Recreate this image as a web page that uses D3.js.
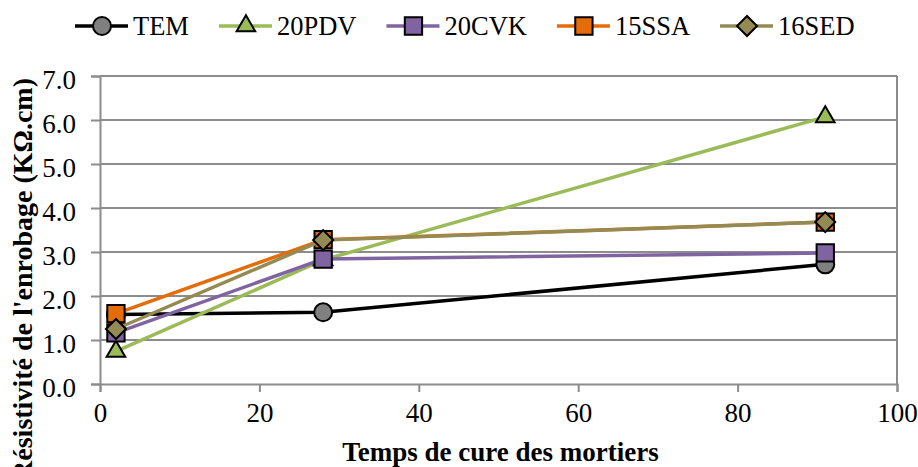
<!DOCTYPE html>
<html>
<head>
<meta charset="utf-8">
<script src="https://cdn.jsdelivr.net/npm/d3@7"></script>
<style>
  body { margin: 0; background: #fff; }
  svg text { font-family: "Liberation Serif", "Times New Roman", Times, serif; }
</style>
</head>
<body>
<svg id="chart"></svg>
<script>
// Data
const days = [2, 28, 91]
const seriesNames = ['TEM', '20PDV', '20CVK', '15SSA', '16SED']
const temValues = [1.58, 1.63, 2.72]
const pdvValues = [0.74, 2.82, 6.07]
const cvkValues = [1.16, 2.84, 2.98]
const ssaValues = [1.60, 3.28, 3.68]
const sedValues = [1.25, 3.27, 3.68]
const xTicks = [0, 20, 40, 60, 80, 100]
const yTicks = [0, 1, 2, 3, 4, 5, 6, 7]

const W = 918, H = 467
const margin = { top: 76, right: 21, bottom: 83, left: 100 }
const width = W - margin.left - margin.right
const height = H - margin.top - margin.bottom
const serif = '"Liberation Serif", "Times New Roman", Times, serif'

const styles = {
  TEM: { color: '#000000', fill: '#808080', shape: 'circle' },
  '20PDV': { color: '#9BBB59', fill: '#9BBB59', shape: 'triangle' },
  '20CVK': { color: '#8064A2', fill: '#8064A2', shape: 'square' },
  '15SSA': { color: '#E46C0A', fill: '#E46C0A', shape: 'square' },
  '16SED': { color: '#948A54', fill: '#948A54', shape: 'diamond' }
}
const valuesByName = {
  TEM: temValues, '20PDV': pdvValues, '20CVK': cvkValues, '15SSA': ssaValues, '16SED': sedValues
}
const series = seriesNames.map(name => ({
  name,
  ...styles[name],
  points: days.map((d, i) => ({ x: d, y: valuesByName[name][i] }))
}))

const svg = d3.select('#chart').attr('width', W).attr('height', H)
const g = svg.append('g').attr('transform', `translate(${margin.left},${margin.top})`)

const x = d3.scaleLinear().domain([0, 100]).range([0, width])
const y = d3.scaleLinear().domain([0, 7]).range([height, 0])

const gridColor = '#8c8c8c'

// Horizontal gridlines
g.append('g')
  .selectAll('line')
  .data(yTicks.slice(1))
  .join('line')
  .attr('x1', 0).attr('x2', width)
  .attr('y1', d => y(d)).attr('y2', d => y(d))
  .attr('stroke', gridColor).attr('stroke-width', 2)

// Right border of plot area
g.append('line')
  .attr('x1', width).attr('x2', width)
  .attr('y1', 0).attr('y2', height)
  .attr('stroke', gridColor).attr('stroke-width', 2)

// Axes
const xAxis = g.append('g')
  .attr('transform', `translate(0,${height})`)
  .call(d3.axisBottom(x).tickValues(xTicks).tickSize(8).tickPadding(11).tickFormat(d3.format('d')))
const yAxis = g.append('g')
  .call(d3.axisLeft(y).tickValues(yTicks).tickSize(9).tickPadding(15).tickFormat(d3.format('.1f')))

;[xAxis, yAxis].forEach(a => {
  a.attr('font-family', serif).attr('font-size', 27)
  a.select('.domain').attr('stroke', gridColor).attr('stroke-width', 2)
  a.selectAll('.tick line').attr('stroke', gridColor).attr('stroke-width', 2)
  a.selectAll('.tick text').attr('fill', '#000')
})
yAxis.selectAll('.tick text').attr('dy', '0.45em')

// Marker drawing
const symbolFor = shape => ({
  circle: d3.symbol(d3.symbolCircle, 254),
  triangle: d3.symbol(d3.symbolTriangle, 150),
  square: d3.symbol(d3.symbolSquare, 300),
  diamond: d3.symbol(d3.symbolSquare, 200)
}[shape])
const rot = shape => shape === 'diamond' ? ' rotate(45)' : ''

const line = d3.line().x(d => x(d.x)).y(d => y(d.y))

series.forEach(s => {
  const sg = g.append('g')
  sg.append('path')
    .datum(s.points)
    .attr('d', line)
    .attr('fill', 'none')
    .attr('stroke', s.color)
    .attr('stroke-width', 3.5)
  sg.selectAll('path.marker')
    .data(s.points)
    .join('path')
    .attr('class', 'marker')
    .attr('d', symbolFor(s.shape))
    .attr('transform', d => `translate(${x(d.x)},${y(d.y)})${rot(s.shape)}`)
    .attr('fill', s.fill)
    .attr('stroke', '#000')
    .attr('stroke-width', 2)
})

// Axis titles
svg.append('text')
  .attr('x', margin.left + width / 2 + 2)
  .attr('y', 461)
  .attr('text-anchor', 'middle')
  .attr('font-family', serif)
  .attr('font-size', 27)
  .attr('font-weight', 'bold')
  .text('Temps de cure des mortiers')

// the reference chart is cropped at the bottom, so this title runs off the edge there too
svg.append('text')
  .attr('transform', 'translate(32,78) rotate(-90)')
  .attr('text-anchor', 'end')
  .attr('font-family', serif)
  .attr('font-size', 28)
  .attr('font-weight', 'bold')
  .text("Résistivité de l'enrobage (KΩ.cm)")

// Legend
const legend = svg.append('g').attr('transform', 'translate(75,26)')
let lx = 0
series.forEach(s => {
  const item = legend.append('g').attr('transform', `translate(${lx},0)`)
  item.append('line')
    .attr('x1', 0).attr('x2', 53)
    .attr('y1', 0).attr('y2', 0)
    .attr('stroke', s.color).attr('stroke-width', 3.5)
  item.append('path')
    .attr('d', symbolFor(s.shape))
    .attr('transform', `translate(27,0)${rot(s.shape)}`)
    .attr('fill', s.fill)
    .attr('stroke', '#000')
    .attr('stroke-width', 2)
  const t = item.append('text')
    .attr('x', 58)
    .attr('dy', '0.34em')
    .attr('font-family', serif)
    .attr('font-size', 26.5)
    .text(s.name)
  lx += 58 + t.node().getComputedTextLength() + 30
})
</script>
</body>
</html>
